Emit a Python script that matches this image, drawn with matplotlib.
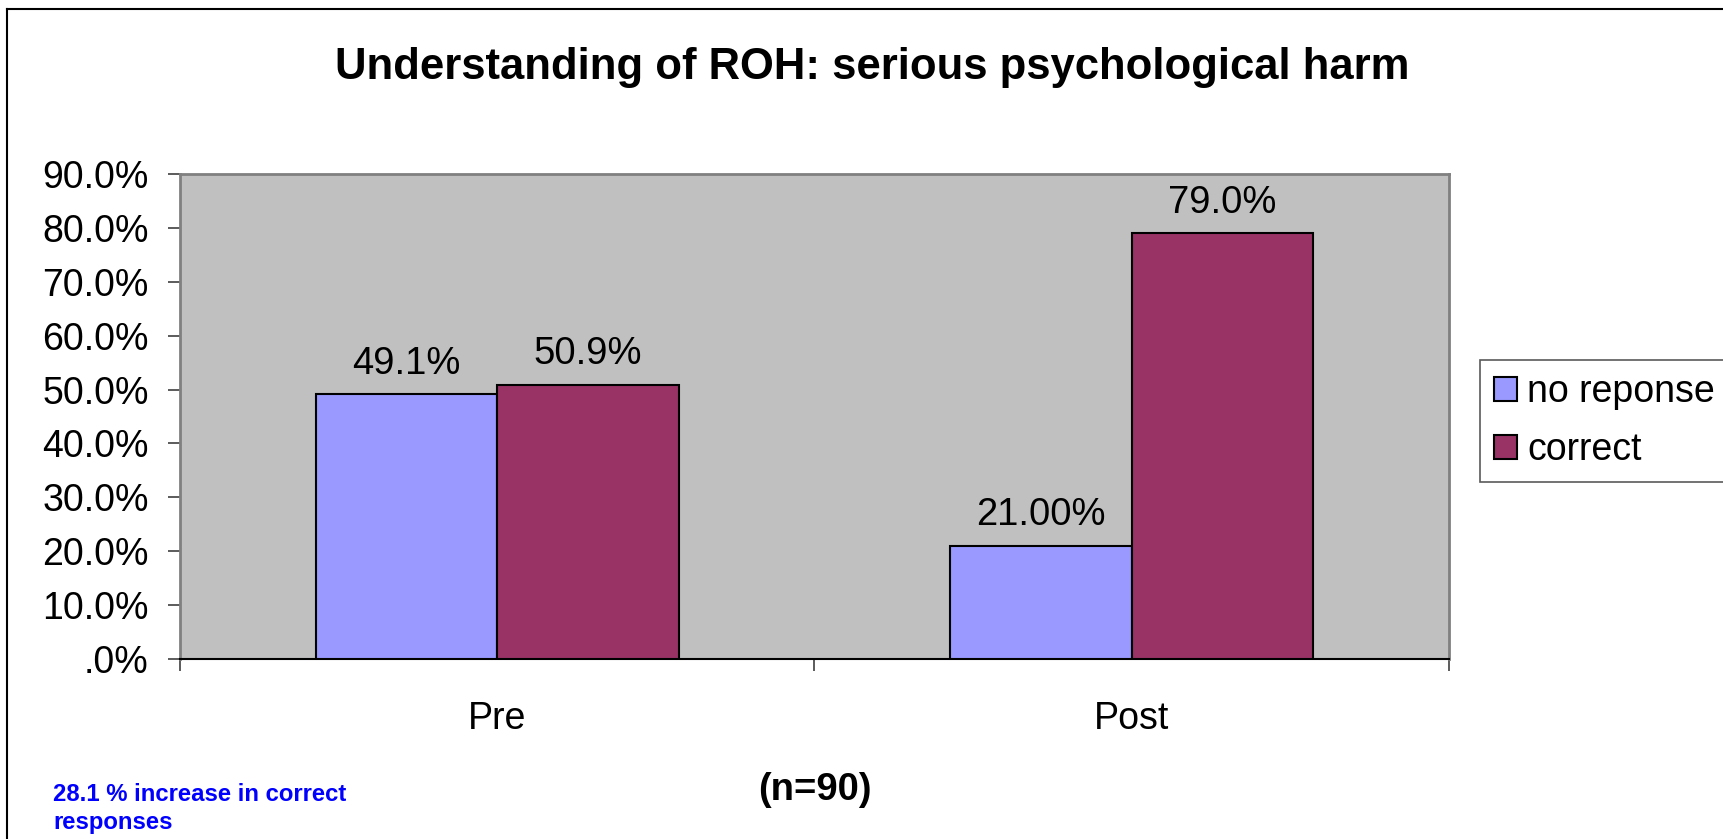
import numpy as np
import matplotlib
matplotlib.use("Agg")
import matplotlib.pyplot as plt
from matplotlib.lines import Line2D

# data
categories = ["Pre", "Post"]
no_response = [49.1, 21.0]
correct = [50.9, 79.0]
no_response_labels = ["49.1%", "21.00%"]
correct_labels = ["50.9%", "79.0%"]
series_names = ["no reponse", "correct"]
y_ticks = [0, 10, 20, 30, 40, 50, 60, 70, 80, 90]
y_tick_labels = [".0%", "10.0%", "20.0%", "30.0%", "40.0%", "50.0%",
                 "60.0%", "70.0%", "80.0%", "90.0%"]

plt.rcParams["font.family"] = ["Liberation Sans", "DejaVu Sans"]

W, H = 1724, 839
fig = plt.figure(figsize=(W / 100, H / 100), dpi=100)
fig.patch.set_facecolor("white")

# outer chart-area border (only left/top visible, rest is cropped)
fig.add_artist(Line2D([7 / W, 7 / W], [0, 1 - 9 / H], transform=fig.transFigure,
                      color="black", lw=1.5))
fig.add_artist(Line2D([7 / W, 1], [1 - 9 / H, 1 - 9 / H], transform=fig.transFigure,
                      color="black", lw=1.5))

ax = fig.add_axes([180 / W, 1 - 659 / H, (1449 - 180) / W, (659 - 174) / H])
ax.set_facecolor("#C0C0C0")

x = np.arange(len(categories))
bw = 1 / 3.5
b1 = ax.bar(x - bw / 2, no_response, bw, color="#9999FF", edgecolor="black",
            linewidth=1.5, label=series_names[0], zorder=3)
b2 = ax.bar(x + bw / 2, correct, bw, color="#993366", edgecolor="black",
            linewidth=1.5, label=series_names[1], zorder=3)

for rect, lab in zip(list(b1) + list(b2), no_response_labels + correct_labels):
    ax.annotate(lab, (rect.get_x() + rect.get_width() / 2, rect.get_height()),
                xytext=(0, 9), textcoords="offset points",
                ha="center", va="bottom", fontsize=27.5)

ax.set_xlim(-0.5, len(categories) - 0.5)
ax.set_ylim(0, 90)
ax.set_yticks(y_ticks)
ax.set_yticklabels(y_tick_labels, fontsize=27)
ax.tick_params(axis="y", length=8.6, width=1.2, color="#404040", pad=14)

ax.set_xticks(np.arange(len(categories) + 1) - 0.5)
ax.set_xticklabels([])
ax.tick_params(axis="x", which="major", length=8.6, width=1.2, color="#404040")
ax.set_xticks(x, minor=True)
ax.set_xticklabels(categories, minor=True, fontsize=27)
ax.tick_params(axis="x", which="minor", length=0, pad=30)

for side in ["top", "left", "right"]:
    ax.spines[side].set_color("#808080")
    ax.spines[side].set_linewidth(2)
ax.spines["bottom"].set_color("black")
ax.spines["bottom"].set_linewidth(1.5)

leg = ax.legend(loc="upper left", bbox_to_anchor=(1480 / W, 1 - 360 / H),
                bbox_transform=fig.transFigure, fontsize=27, frameon=True,
                fancybox=False, handlelength=0.6, handleheight=0.6,
                handletextpad=0.28, borderpad=0.38, labelspacing=0.58,
                borderaxespad=0)
leg.get_frame().set_edgecolor("#303030")
leg.get_frame().set_linewidth(1.2)

fig.text(872 / W, 1 - 67.5 / H, "Understanding of ROH: serious psychological harm",
         ha="center", va="center", fontsize=31.4, fontweight="bold")
fig.text(815 / W, 1 - 790 / H, "(n=90)", ha="center", va="center",
         fontsize=27.5, fontweight="bold")
fig.text(53 / W, 1 - 783 / H, "28.1 % increase in correct\nresponses",
         ha="left", va="top", fontsize=17.2, fontweight="bold", color="#0000FF",
         linespacing=1.28)

fig.savefig("out.png", dpi=100)
